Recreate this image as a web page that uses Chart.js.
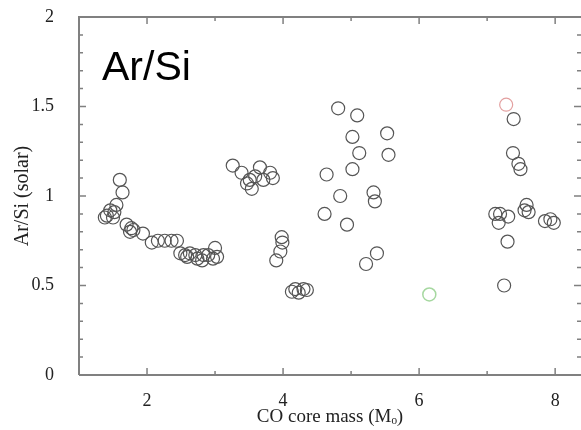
<!DOCTYPE html>
<html>
<head>
<meta charset="utf-8">
<script src="https://cdn.jsdelivr.net/npm/chart.js@4.4.0/dist/chart.umd.min.js"></script>
<style>
  html, body { margin: 0; padding: 0; background: #fff; }
  #wrap { width: 581px; height: 430px; }
</style>
</head>
<body>
<div id="wrap"><canvas id="chart"></canvas></div>
<script>
// ==============================
// data
// ==============================
const blackX = [1.60, 1.64, 1.55, 1.46, 1.41, 1.38, 1.50, 1.52, 1.70, 1.77, 1.80, 1.75, 1.94,
  2.07, 2.16, 2.26, 2.36, 2.44, 2.49, 2.56, 2.63, 2.71, 2.81, 2.83, 2.90, 3.00, 3.03, 2.97, 2.74, 2.59,
  3.26, 3.39, 3.51, 3.66, 3.81, 3.85, 3.54, 3.47, 3.71, 3.59,
  3.98, 3.99, 3.96, 3.90, 4.13, 4.18, 4.23, 4.30, 4.35,
  4.81, 5.09, 5.02, 5.12, 5.53, 5.55, 4.64, 5.02, 4.84, 5.33, 5.35, 4.61, 4.94, 5.38, 5.22,
  7.39, 7.38, 7.46, 7.49, 7.12, 7.19, 7.31, 7.17, 7.58, 7.61, 7.55, 7.93, 7.98, 7.85, 7.30, 7.25];
const blackY = [1.09, 1.02, 0.95, 0.92, 0.89, 0.88, 0.88, 0.91, 0.84, 0.82, 0.81, 0.80, 0.79,
  0.74, 0.75, 0.75, 0.75, 0.75, 0.68, 0.67, 0.68, 0.67, 0.64, 0.67, 0.67, 0.71, 0.66, 0.65, 0.65, 0.66,
  1.17, 1.13, 1.09, 1.16, 1.13, 1.10, 1.04, 1.07, 1.09, 1.11,
  0.77, 0.74, 0.69, 0.64, 0.465, 0.48, 0.46, 0.48, 0.475,
  1.49, 1.45, 1.33, 1.24, 1.35, 1.23, 1.12, 1.15, 1.00, 1.02, 0.97, 0.90, 0.84, 0.68, 0.62,
  1.43, 1.24, 1.18, 1.15, 0.90, 0.90, 0.885, 0.85, 0.95, 0.91, 0.92, 0.87, 0.85, 0.86, 0.745, 0.50];
const redX = [7.28];
const redY = [1.51];
const greenX = [6.15];
const greenY = [0.45];

const xTicks = [2, 4, 6, 8];
const yTicks = [0, 0.5, 1, 1.5, 2];
const xTitle = "CO core mass (M\u2092)";
const yTitle = "Ar/Si (solar)";
const panelLabel = "Ar/Si";

const toPoints = (xs, ys) => xs.map((x, i) => ({ x: x, y: ys[i] }));

// ==============================
// frame + inward ticks + label
// ==============================
const framePlugin = {
  id: "frame",
  afterDraw(chart) {
    const { ctx, chartArea: a, scales: { x, y } } = chart;
    ctx.save();
    ctx.strokeStyle = "#808080";
    ctx.lineWidth = 2;
    ctx.beginPath();
    ctx.moveTo(a.left, a.bottom);
    ctx.lineTo(a.left, a.top);
    ctx.lineTo(a.right, a.top);
    ctx.moveTo(a.left, a.bottom);
    ctx.lineTo(a.right, a.bottom);
    ctx.stroke();

    ctx.lineWidth = 1.5;
    ctx.beginPath();
    // y ticks, minor every 0.1
    for (let i = 1; i < 20; i++) {
      const py = y.getPixelForValue(i / 10);
      const len = i % 5 === 0 ? 7 : 4;
      ctx.moveTo(a.left, py); ctx.lineTo(a.left + len, py);
      ctx.moveTo(a.right, py); ctx.lineTo(a.right - len, py);
    }
    // x ticks, minor every 1
    for (let v = 2; v <= 8; v++) {
      const px = x.getPixelForValue(v);
      const len = v % 2 === 0 ? 7 : 4;
      ctx.moveTo(px, a.bottom); ctx.lineTo(px, a.bottom - len);
      ctx.moveTo(px, a.top); ctx.lineTo(px, a.top + len);
    }
    ctx.stroke();

    ctx.fillStyle = "#000";
    ctx.font = "41px 'Liberation Sans', sans-serif";
    ctx.textBaseline = "alphabetic";
    ctx.fillText(panelLabel, a.left + 23, 80);
    ctx.restore();
  }
};

const serif = "'Liberation Serif', 'DejaVu Serif', serif";

new Chart(document.getElementById("chart"), {
  type: "scatter",
  data: {
    datasets: [
      { data: toPoints(blackX, blackY), borderColor: "#555", backgroundColor: "rgba(0,0,0,0)", borderWidth: 1.2, pointRadius: 6.5 },
      { data: toPoints(redX, redY), borderColor: "#e3a0a0", backgroundColor: "rgba(0,0,0,0)", borderWidth: 1.2, pointRadius: 6.5 },
      { data: toPoints(greenX, greenY), borderColor: "#a6d8a0", backgroundColor: "rgba(0,0,0,0)", borderWidth: 1.5, pointRadius: 6.5 }
    ]
  },
  options: {
    responsive: true,
    maintainAspectRatio: false,
    animation: false,
    layout: { autoPadding: false, padding: { top: 17, right: 0, left: 0, bottom: 0 } },
    plugins: { legend: { display: false }, tooltip: { enabled: false } },
    elements: { point: { pointStyle: "circle", hoverRadius: 6.5 } },
    scales: {
      x: {
        type: "linear",
        min: 1,
        max: 8.38,
        grid: { display: false },
        border: { display: false },
        afterBuildTicks: s => { s.ticks = xTicks.map(v => ({ value: v })); },
        afterFit: s => { s.height = 55; s.paddingLeft = 0; s.paddingRight = 0; },
        ticks: { color: "#222", padding: 7, font: { family: serif, size: 18 } },
        title: { display: true, text: xTitle, color: "#222", padding: { top: 0, bottom: 2 }, font: { family: serif, size: 19 } }
      },
      y: {
        type: "linear",
        min: 0,
        max: 2,
        grid: { display: false },
        border: { display: false },
        afterBuildTicks: s => { s.ticks = yTicks.map(v => ({ value: v })); },
        afterFit: s => { s.width = 79; s.paddingTop = 0; s.paddingBottom = 0; },
        ticks: { color: "#222", padding: 17, font: { family: serif, size: 18 }, callback: v => String(v) },
        title: { display: true, text: yTitle, color: "#222", padding: { top: 11, bottom: 0 }, font: { family: serif, size: 20 } }
      }
    }
  },
  plugins: [framePlugin]
});
</script>
</body>
</html>
